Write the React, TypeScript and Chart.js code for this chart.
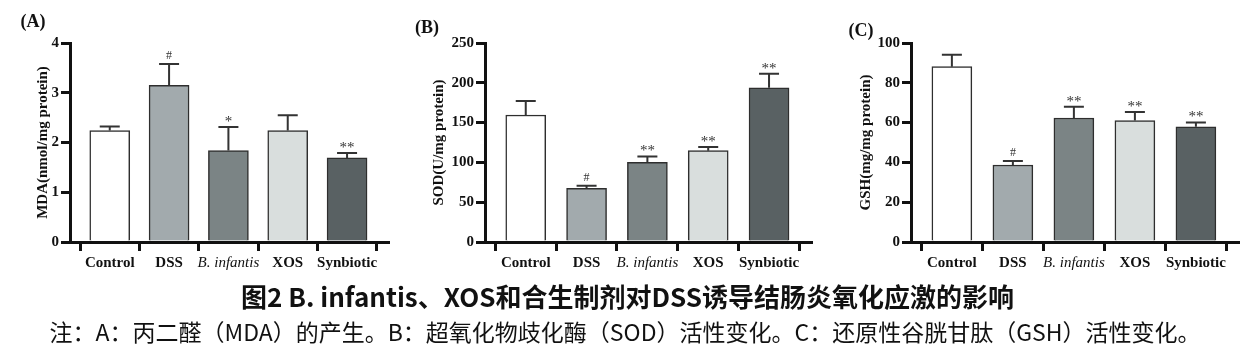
import React, { useEffect, useRef } from "react";
import { Chart, registerables } from "chart.js";

Chart.register(...registerables);

// ---------------- data ----------------
const categories = ["Control", "DSS", "B. infantis", "XOS", "Synbiotic"];
const barColors = ["#ffffff", "#a2aaad", "#7b8485", "#d9dedd", "#596163"];

const mdaMeans = [2.24, 3.15, 1.84, 2.24, 1.69];
const mdaSD = [0.08, 0.43, 0.47, 0.31, 0.1];
const mdaMarks = ["", "#", "*", "", "**"];

const sodMeans = [159.5, 67.3, 100, 114.7, 193.8];
const sodSD = [17.6, 3.4, 7.5, 4.6, 17.6];
const sodMarks = ["", "#", "**", "**", "**"];

const gshMeans = [88.1, 38.7, 62.3, 61, 57.9];
const gshSD = [6, 2, 5.7, 4.3, 2.2];
const gshMarks = ["", "#", "**", "**", "**"];

const captionLine1 = "图2 B. infantis、XOS和合生制剂对DSS诱导结肠炎氧化应激的影响";
const captionLine2 =
  "注：A：丙二醛（MDA）的产生。B：超氧化物歧化酶（SOD）活性变化。C：还原性谷胱甘肽（GSH）活性变化。";

// ---------------- styling ----------------
const SERIF = '"Liberation Serif", "Times New Roman", serif';
const INK = "#111111";

type PanelProps = {
  left: number;
  width: number;
  height: number;
  letter: string;
  letterX: number;
  letterY: number;
  yTitle: string;
  yMax: number;
  yStep: number;
  means: number[];
  sds: number[];
  marks: string[];
  areaLeft: number;
  areaRight: number;
  areaTop: number;
  areaBottom: number;
  titleOffset: number;
};

function Panel(p: PanelProps) {
  const ref = useRef<HTMLCanvasElement>(null);

  useEffect(() => {
    if (!ref.current) return;

    const errorBars = {
      id: "errorBars",
      afterDatasetsDraw(chart: any) {
        const { ctx } = chart;
        const meta = chart.getDatasetMeta(0);
        const yScale = chart.scales.y;
        ctx.save();
        meta.data.forEach((bar: any, i: number) => {
          const x = bar.x;
          const yBar = bar.y;
          const yTop = yScale.getPixelForValue(p.means[i] + p.sds[i]);
          ctx.strokeStyle = "#333333";
          ctx.lineWidth = 2;
          ctx.beginPath();
          ctx.moveTo(x, yBar);
          ctx.lineTo(x, yTop);
          ctx.moveTo(x - 10, yTop);
          ctx.lineTo(x + 10, yTop);
          ctx.stroke();
          const mark = p.marks[i];
          if (mark) {
            const isHash = mark === "#";
            ctx.font = isHash ? `12px ${SERIF}` : `15px ${SERIF}`;
            ctx.fillStyle = "#333333";
            ctx.textAlign = "center";
            ctx.textBaseline = "alphabetic";
            const m = ctx.measureText(mark);
            const desc = m.actualBoundingBoxDescent || 0;
            ctx.fillText(mark, x, yTop - 5 - desc);
          }
        });
        ctx.restore();
      },
      afterDraw(chart: any) {
        const { ctx } = chart;
        ctx.save();
        ctx.font = `bold 18px ${SERIF}`;
        ctx.fillStyle = INK;
        ctx.textAlign = "center";
        ctx.textBaseline = "middle";
        ctx.fillText(p.letter, p.letterX, p.letterY);
        ctx.restore();
      },
    };

    const chart = new Chart(ref.current, {
      type: "bar",
      data: {
        datasets: [
          {
            data: p.means.map((y, i) => ({ x: i, y })),
            backgroundColor: barColors,
            borderColor: "#2e2e2e",
            borderWidth: 1.5,
            borderSkipped: "start",
            barThickness: 40,
          } as any,
        ],
      },
      options: {
        responsive: false,
        animation: false,
        layout: {
          padding: {
            top: p.areaTop,
            right: p.width - p.areaRight,
            bottom: 0,
            left: 0,
          },
        },
        plugins: {
          legend: { display: false },
          tooltip: { enabled: false },
        },
        scales: {
          x: {
            type: "linear",
            min: -0.67,
            max: 4.69,
            offset: false,
            z: 1,
            afterFit: (s: any) => {
              s.height = p.height - p.areaBottom;
            },
            border: { display: true, color: INK, width: 3 },
            grid: {
              display: true,
              drawOnChartArea: false,
              drawTicks: true,
              tickLength: 9,
              lineWidth: 3,
              color: INK,
            },
            ticks: {
              stepSize: 1,
              includeBounds: false,
              autoSkip: false,
              maxRotation: 0,
              padding: 3,
              color: INK,
              font: (ctx: any) => {
                const v = ctx.tick ? ctx.tick.value : ctx.index;
                return v === 2
                  ? { family: SERIF, size: 15, style: "italic", weight: "normal" }
                  : { family: SERIF, size: 15, weight: "bold" };
              },
              callback: (v: any) => categories[v as number] ?? "",
            },
          } as any,
          y: {
            min: 0,
            max: p.yMax,
            z: 1,
            afterFit: (s: any) => {
              s.width = p.areaLeft;
            },
            border: { display: true, color: INK, width: 3 },
            grid: {
              display: true,
              drawOnChartArea: false,
              drawTicks: true,
              tickLength: 9,
              lineWidth: 3,
              color: INK,
            },
            ticks: {
              stepSize: p.yStep,
              padding: 2,
              color: INK,
              font: { family: SERIF, size: 15, weight: "bold" },
            },
            title: {
              display: true,
              text: p.yTitle,
              color: INK,
              font: { family: SERIF, size: 15, weight: "bold" },
              padding: { top: p.titleOffset, bottom: 0 },
            },
          } as any,
        },
      },
      plugins: [errorBars],
    });

    return () => chart.destroy();
  }, []);

  return (
    <canvas
      ref={ref}
      width={p.width}
      height={p.height}
      style={{
        position: "absolute",
        left: p.left,
        top: 0,
        width: p.width,
        height: p.height,
      }}
    />
  );
}

export default function App() {
  return (
    <div
      style={{
        position: "fixed",
        left: 0,
        top: 0,
        width: 1255,
        height: 363,
        background: "#ffffff",
        overflow: "hidden",
      }}
    >
      <Panel
        left={0}
        width={400}
        height={280}
        letter="(A)"
        letterX={33}
        letterY={22}
        yTitle="MDA(nmol/mg protein)"
        yMax={4}
        yStep={1}
        means={mdaMeans}
        sds={mdaSD}
        marks={mdaMarks}
        areaLeft={70}
        areaRight={388}
        areaTop={43}
        areaBottom={242}
        titleOffset={34}
      />
      <Panel
        left={400}
        width={420}
        height={280}
        letter="(B)"
        letterX={27}
        letterY={28}
        yTitle="SOD(U/mg protein)"
        yMax={250}
        yStep={50}
        means={sodMeans}
        sds={sodSD}
        marks={sodMarks}
        areaLeft={85}
        areaRight={411}
        areaTop={43}
        areaBottom={242}
        titleOffset={30}
      />
      <Panel
        left={830}
        width={425}
        height={280}
        letter="(C)"
        letterX={31}
        letterY={31}
        yTitle="GSH(mg/mg protein)"
        yMax={100}
        yStep={20}
        means={gshMeans}
        sds={gshSD}
        marks={gshMarks}
        areaLeft={81}
        areaRight={408}
        areaTop={43}
        areaBottom={242}
        titleOffset={27}
      />
      <div
        style={{
          position: "absolute",
          left: 0,
          top: 282,
          width: 1255,
          textAlign: "center",
          fontFamily: '"Noto Sans CJK SC", "Noto Sans", sans-serif',
          fontSize: 26,
          fontWeight: 700,
          lineHeight: "28px",
          whiteSpace: "nowrap",
          color: "#111",
        }}
      >
        {captionLine1}
      </div>
      <div
        style={{
          position: "absolute",
          left: 0,
          top: 317,
          width: 1250,
          textAlign: "center",
          fontFamily: '"Noto Sans CJK SC", "Noto Sans", sans-serif',
          fontSize: 23,
          fontWeight: 400,
          lineHeight: "28px",
          whiteSpace: "nowrap",
          color: "#111",
        }}
      >
        {captionLine2}
      </div>
    </div>
  );
}
